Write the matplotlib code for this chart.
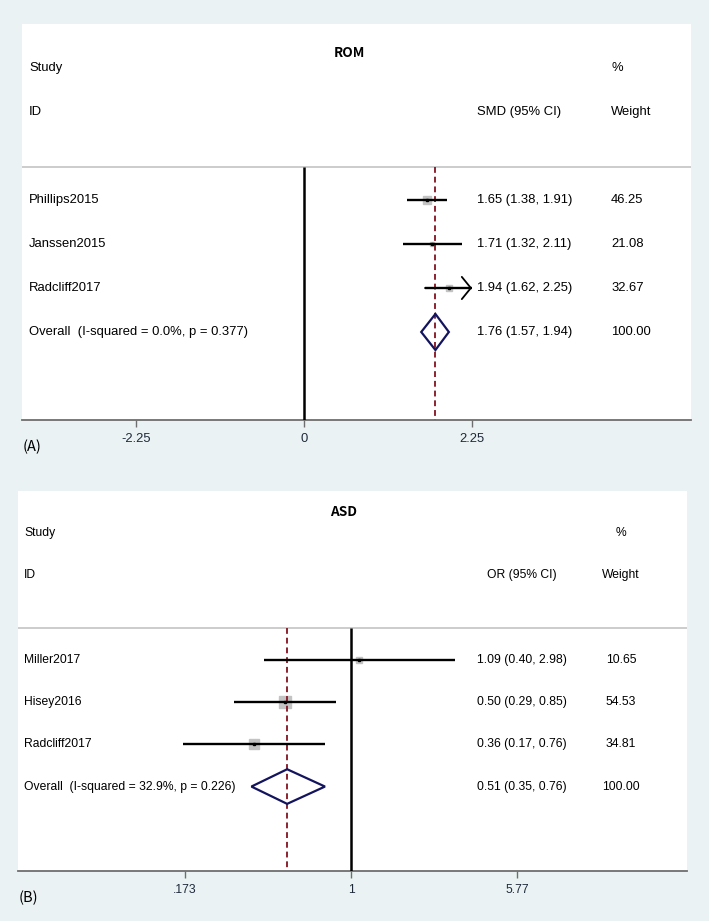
import numpy as np
import matplotlib
matplotlib.use("Agg")
import matplotlib.pyplot as plt

# ---------------- data ----------------
rom_title = "ROM"
rom_studies = ["Phillips2015", "Janssen2015", "Radcliff2017"]
rom_est = [1.65, 1.71, 1.94]
rom_lo = [1.38, 1.32, 1.62]
rom_hi = [1.91, 2.11, 2.25]
rom_weight = [46.25, 21.08, 32.67]
rom_ci_text = ["1.65 (1.38, 1.91)", "1.71 (1.32, 2.11)", "1.94 (1.62, 2.25)"]
rom_overall = 1.76
rom_overall_lo = 1.57
rom_overall_hi = 1.94
rom_overall_label = "Overall  (I-squared = 0.0%, p = 0.377)"
rom_overall_text = "1.76 (1.57, 1.94)"
rom_ticks = [-2.25, 0, 2.25]
rom_ticklabels = ["-2.25", "0", "2.25"]
rom_xlim = (-3.777, 5.183)
rom_null = 0.0

asd_title = "ASD"
asd_studies = ["Miller2017", "Hisey2016", "Radcliff2017"]
asd_est = [1.09, 0.50, 0.36]
asd_lo = [0.40, 0.29, 0.17]
asd_hi = [2.98, 0.85, 0.76]
asd_weight = [10.65, 54.53, 34.81]
asd_ci_text = ["1.09 (0.40, 2.98)", "0.50 (0.29, 0.85)", "0.36 (0.17, 0.76)"]
asd_overall = 0.51
asd_overall_lo = 0.35
asd_overall_hi = 0.76
asd_overall_label = "Overall  (I-squared = 32.9%, p = 0.226)"
asd_overall_text = "0.51 (0.35, 0.76)"
asd_ticks = [0.173, 1, 5.77]
asd_ticklabels = [".173", "1", "5.77"]
asd_xlim = (0.0299, 34.5)
asd_null = 1.0

# ---------------- style ----------------
BG = "#eaf2f3"
FONT = ["Liberation Sans", "DejaVu Sans"]
CJK = ["Noto Sans CJK SC", "DejaVu Sans"]
W, H = 709, 921

fig = plt.figure(figsize=(W / 100, H / 100), dpi=100)
fig.patch.set_facecolor(BG)


def panel(rect_px, title, studies, est, lo, hi, weight, ci_text, ov, ov_lo, ov_hi,
          ov_label, ov_text, ticks, ticklabels, xlim, null, logx, effect_hdr,
          ci_x, w_x, ci_ha, w_ha, box_k, title_pos, letter, study_x, FS):
    x0, y0, x1, y1 = rect_px
    ax = fig.add_axes([x0 / W, 1 - y1 / H, (x1 - x0) / W, (y1 - y0) / H])
    ax.set_facecolor("white")
    if logx:
        ax.set_xscale("log")
    ax.set_xlim(*xlim)
    ax.set_ylim(5.0, -4.0)
    for s in ["top", "left", "right"]:
        ax.spines[s].set_visible(False)
    ax.spines["bottom"].set_color("#6e6e6e")
    ax.spines["bottom"].set_linewidth(1.3)
    ax.set_yticks([])
    ax.set_xticks(ticks)
    ax.set_xticklabels(ticklabels, fontsize=FS, family=FONT, color="#1e2a3a")
    ax.xaxis.set_minor_locator(matplotlib.ticker.NullLocator())
    ax.tick_params(axis="x", length=5, width=1, color="#6e6e6e", pad=4)

    tr = ax.get_yaxis_transform()  # x in axes fraction, y in data
    # header
    ax.text(title_pos[0], title_pos[1], title, transform=tr, ha="center",
            va="center", fontsize=9.8, family=CJK, fontweight="bold")
    ax.text(study_x, -3.0, "Study", transform=tr, ha="left", va="center",
            fontsize=FS, family=FONT)
    ax.text(study_x, -2.0, "ID", transform=tr, ha="left", va="center",
            fontsize=FS, family=FONT)
    ax.text(w_x, -3.0, "%", transform=tr, ha=w_ha, va="center",
            fontsize=FS, family=FONT)
    ax.text(w_x, -2.0, "Weight", transform=tr, ha=w_ha, va="center",
            fontsize=FS, family=FONT)
    ax.text(ci_x, -2.0, effect_hdr, transform=tr, ha=ci_ha, va="center",
            fontsize=FS, family=FONT)
    ax.axhline(-0.75, color="#c8c8c8", lw=1.3)

    # null line and overall dashed line
    ax.plot([null, null], [-0.75, 5.0], color="black", lw=1.8, zorder=3,
            solid_capstyle="butt")
    ax.plot([ov, ov], [-0.75, 5.0], color="#8b2330", lw=1.4, ls=(0, (3, 2)),
            zorder=4)

    xmax_tick = max(ticks)
    for i, name in enumerate(studies):
        ax.text(study_x, i, name, transform=tr, ha="left", va="center",
                fontsize=FS, family=FONT)
        ax.text(ci_x, i, ci_text[i], transform=tr, ha=ci_ha, va="center",
                fontsize=FS, family=FONT)
        ax.text(w_x, i, f"{weight[i]:.2f}", transform=tr, ha=w_ha, va="center",
                fontsize=FS, family=FONT)
        side = box_k * np.sqrt(weight[i]) * 0.72
        ax.plot([est[i]], [i], marker="s", ms=side, mfc="#c3c3c3", mec="#c3c3c3",
                zorder=2, ls="none")
        if hi[i] >= xmax_tick and not logx:
            ax.plot([lo[i], xmax_tick], [i, i], color="black", lw=1.7, zorder=5,
                    solid_capstyle="butt")
            ax.annotate("", xy=(xmax_tick, i), xytext=(lo[i], i),
                        arrowprops=dict(arrowstyle="->,head_length=0.65,head_width=0.8",
                                        lw=1.3, color="black", shrinkA=0, shrinkB=0),
                        zorder=5)
        else:
            ax.plot([lo[i], hi[i]], [i, i], color="black", lw=1.7, zorder=5,
                    solid_capstyle="butt")
        ax.plot([est[i]], [i], marker="s", ms=1.8, color="black", zorder=6,
                ls="none")

    n = len(studies)
    ax.text(study_x, n, ov_label, transform=tr, ha="left", va="center",
            fontsize=FS, family=FONT)
    ax.text(ci_x, n, ov_text, transform=tr, ha=ci_ha, va="center",
            fontsize=FS, family=FONT)
    ax.text(w_x, n, "100.00", transform=tr, ha=w_ha, va="center",
            fontsize=FS, family=FONT)
    ax.fill([ov_lo, ov, ov_hi, ov, ov_lo], [n, n - 0.41, n, n + 0.41, n],
            facecolor="none", edgecolor="#14145e", lw=1.6, zorder=7)

    fig.text((x0 + 1) / W, 1 - (y1 + 27) / H, letter, ha="left", va="center",
             fontsize=10.5, family=CJK)
    return ax


panel((22, 24, 691, 420), rom_title, rom_studies, rom_est, rom_lo, rom_hi,
      rom_weight, rom_ci_text, rom_overall, rom_overall_lo, rom_overall_hi,
      rom_overall_label, rom_overall_text, rom_ticks, rom_ticklabels, rom_xlim,
      rom_null, False, "SMD (95% CI)", (477 - 22) / 669, (611 - 22) / 669,
      "left", "left", 1.05, (0.49, -3.34), "(A)", (29 - 22) / 669, 9.35)

panel((18, 491, 687, 871), asd_title, asd_studies, asd_est, asd_lo, asd_hi,
      asd_weight, asd_ci_text, asd_overall, asd_overall_lo, asd_overall_hi,
      asd_overall_label, asd_overall_text, asd_ticks, asd_ticklabels, asd_xlim,
      asd_null, True, "OR (95% CI)", (522 - 18) / 669, (621 - 18) / 669,
      "center", "center", 1.62, (0.487, -3.5), "(B)", (24 - 18) / 669, 8.7)

fig.savefig("out.png", dpi=100, facecolor=BG)
